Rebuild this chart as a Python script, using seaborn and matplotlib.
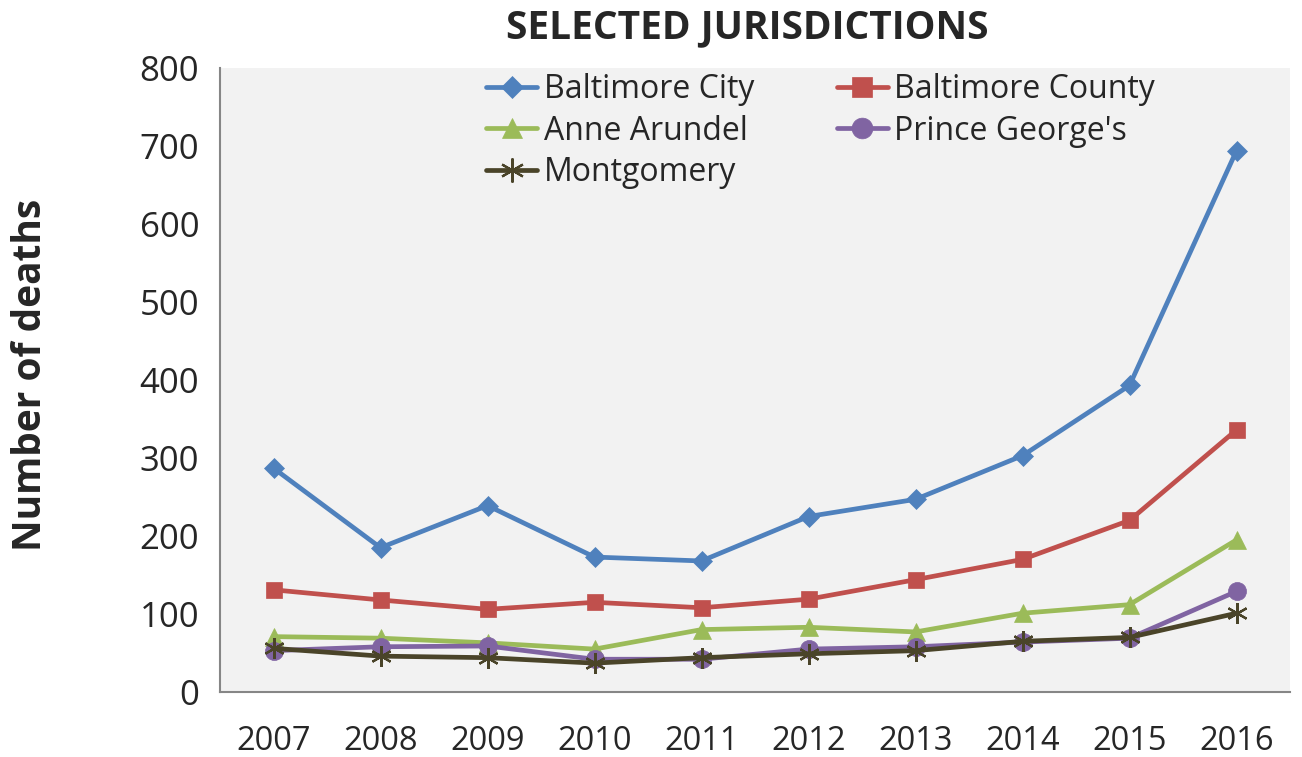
import matplotlib
matplotlib.use("Agg")
import matplotlib.pyplot as plt
import seaborn as sns
import pandas as pd
from matplotlib.ticker import FixedLocator

years = [2007, 2008, 2009, 2010, 2011, 2012, 2013, 2014, 2015, 2016]
baltimore_city = [287, 185, 239, 173, 168, 225, 247, 303, 393, 694]
baltimore_county = [131, 118, 106, 115, 108, 119, 144, 170, 220, 336]
anne_arundel = [71, 69, 63, 55, 80, 83, 77, 101, 112, 195]
prince_georges = [53, 58, 59, 42, 42, 55, 58, 64, 69, 129]
montgomery = [56, 46, 44, 37, 44, 49, 53, 65, 70, 101]

series_names = ["Baltimore City", "Baltimore County", "Anne Arundel", "Prince George's", "Montgomery"]
series_vals = [baltimore_city, baltimore_county, anne_arundel, prince_georges, montgomery]
colors = ["#4F81BD", "#C0504D", "#9BBB59", "#8064A2", "#4A4429"]
markers = ["D", "s", "^", "o", (6, 2, 0)]
msizes = [10, 12, 13, 13, 15]

rows = []
for name, vals in zip(series_names, series_vals):
    for i, (y, v) in enumerate(zip(years, vals)):
        rows.append({"pos": i, "year": y, "deaths": v, "series": name})
df = pd.DataFrame(rows)

sns.set_theme(style="white")
plt.rcParams["font.family"] = ["Open Sans", "DejaVu Sans"]

W, H = 1302, 757
fig = plt.figure(figsize=(W / 100, H / 100), dpi=100)
ax = fig.add_axes([220 / W, 1 - 692 / H, 1070 / W, 624 / H])
ax.set_facecolor("#F2F2F2")

for name, c, m, ms in zip(series_names, colors, markers, msizes):
    sub = df[df["series"] == name]
    sns.lineplot(data=sub, x="pos", y="deaths", ax=ax, color=c, linewidth=3.4,
                 marker=m, markersize=ms, markeredgecolor=c,
                 markeredgewidth=1.6 if name == "Montgomery" else 0.5,
                 label=name, legend=False)

ax.set_xlim(-0.5, 9.5)
ax.set_ylim(0, 800)
ax.set_xticks(range(len(years)))
ax.set_xticklabels([str(y) for y in years], fontsize=23.5)
ax.xaxis.set_minor_locator(FixedLocator([i - 0.5 for i in range(len(years) + 1)]))
ax.tick_params(axis="x", which="major", length=0, pad=24)
ax.tick_params(axis="x", which="minor", length=11, width=1.5, color="#868686")
ax.set_yticks(range(0, 801, 100))
ax.tick_params(axis="y", which="major", length=11, width=1.5, color="#868686", labelsize=25, pad=4)

for s in ["top", "right"]:
    ax.spines[s].set_visible(False)
for s in ["left", "bottom"]:
    ax.spines[s].set_color("#868686")
    ax.spines[s].set_linewidth(1.5)

ax.set_xlabel("")
ax.set_ylabel("")
fig.text(31 / W, 1 - 375 / H, "Number of deaths", fontsize=28, fontweight="bold",
         rotation=90, ha="center", va="center")

fig.text(747 / W, 1 - 28 / H, "SELECTED JURISDICTIONS", fontsize=28, fontweight="bold",
         ha="center", va="center")

handles, labels = ax.get_legend_handles_labels()
order = [0, 2, 4, 1, 3]
leg = fig.legend([handles[i] for i in order], [labels[i] for i in order], ncol=2,
                 loc="upper left", bbox_to_anchor=(486 / W, 1 - 73 / H),
                 frameon=False, fontsize=23, handlelength=1.6, handletextpad=0.2,
                 columnspacing=2.6, labelspacing=0.27, borderaxespad=0, borderpad=0,
                 markerscale=1.15)

fig.savefig("out.png", dpi=100)
